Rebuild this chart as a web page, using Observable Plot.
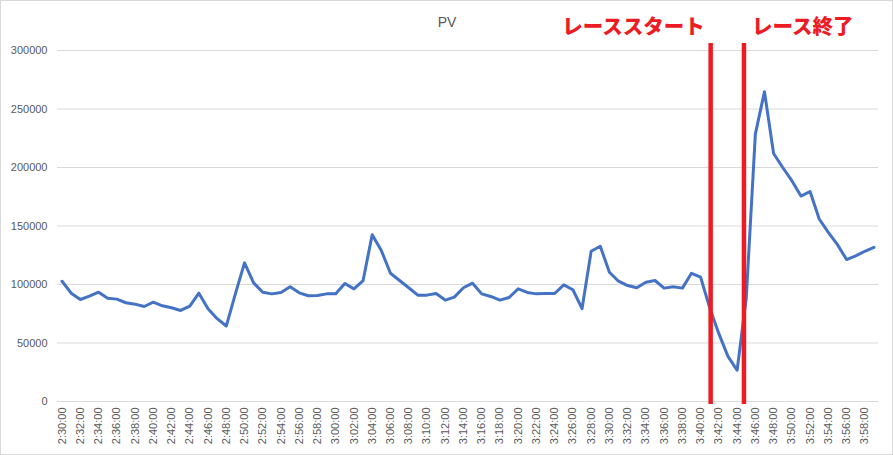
<!DOCTYPE html>
<html><head><meta charset="utf-8">
<script src="https://cdn.jsdelivr.net/npm/d3@7"></script>
<script src="https://cdn.jsdelivr.net/npm/@observablehq/plot@0.6"></script>
<style>
body{margin:0;background:#fff}
svg{outline:1px solid #d9d9d9;outline-offset:-1px}
</style>
</head><body><div id="chart"></div>
<script>
const times = [
"2:30:00","2:31:00","2:32:00","2:33:00","2:34:00","2:35:00","2:36:00","2:37:00","2:38:00","2:39:00",
"2:40:00","2:41:00","2:42:00","2:43:00","2:44:00","2:45:00","2:46:00","2:47:00","2:48:00","2:49:00",
"2:50:00","2:51:00","2:52:00","2:53:00","2:54:00","2:55:00","2:56:00","2:57:00","2:58:00","2:59:00",
"3:00:00","3:01:00","3:02:00","3:03:00","3:04:00","3:05:00","3:06:00","3:07:00","3:08:00","3:09:00",
"3:10:00","3:11:00","3:12:00","3:13:00","3:14:00","3:15:00","3:16:00","3:17:00","3:18:00","3:19:00",
"3:20:00","3:21:00","3:22:00","3:23:00","3:24:00","3:25:00","3:26:00","3:27:00","3:28:00","3:29:00",
"3:30:00","3:31:00","3:32:00","3:33:00","3:34:00","3:35:00","3:36:00","3:37:00","3:38:00","3:39:00",
"3:40:00","3:41:00","3:42:00","3:43:00","3:44:00","3:45:00","3:46:00","3:47:00","3:48:00","3:49:00",
"3:50:00","3:51:00","3:52:00","3:53:00","3:54:00","3:55:00","3:56:00","3:57:00","3:58:00","3:59:00"
];
const pv = [
102800, 92600, 87200, 90000, 93400, 88300, 87500, 84400, 83200, 81200,
84900, 81800, 80100, 77800, 81500, 92600, 79300, 70800, 64500, 92000,
118500,101400, 93400, 92000, 93200, 98000, 92900, 90400, 90600, 92000,
92000,100800, 96300,103400,142600,129000,109600,103400, 97200, 90900,
90900, 92300, 86700, 89200, 97200,101100, 92000, 89800, 86600, 88900,
96300, 93200, 92000, 92300, 92300, 99700, 95500, 79300,128400,132700,
110500,102800, 99100, 97200,102000,103400, 96900, 98000, 96900,109600,
106200, 80000, 58000, 38600, 26700, 88000,228500,264800,212000,200000,
188700,175600,179500,156000,144600,134100,121300,124400,128400,131800
];
const yTicks = [0, 50000, 100000, 150000, 200000, 250000, 300000];
const title = "PV";
const raceStart = {label: "レーススタート", minute: 71.1};
const raceEnd = {label: "レース終了", minute: 74.75};

const xTicks = times.map((t, i) => i).filter(i => i % 2 === 0);
const series = pv.map((v, i) => ({i, t: times[i], v}));
const red = "#ED1C24";
const gray = "#595959";

const chart = Plot.plot({
  width: 893,
  height: 455,
  marginLeft: 57,
  marginRight: 15,
  marginTop: 50,
  marginBottom: 54,
  style: {fontFamily: "'Liberation Sans', Arial, sans-serif", fontSize: "11px", background: "#fff"},
  x: {type: "linear", domain: [-0.5, times.length - 0.5]},
  y: {domain: [0, 300000]},
  marks: [
    Plot.gridY(yTicks, {stroke: "#d9d9d9", strokeOpacity: 1, strokeWidth: 1}),
    Plot.lineY(series, {x: "i", y: "v", stroke: "#4472C4", strokeWidth: 3, strokeLinejoin: "round", strokeLinecap: "round"}),
    Plot.ruleX([raceStart, raceEnd], {x: "minute", stroke: red, strokeWidth: 4.5, insetTop: -7, insetBottom: -3}),
    Plot.text([raceStart], {x: "minute", text: "label", frameAnchor: "top", lineAnchor: "middle", dy: -23, dx: -6, textAnchor: "end",
      fill: red, fontSize: 20.5, fontWeight: 900, fontFamily: "'Noto Sans CJK JP', sans-serif"}),
    Plot.text([raceEnd], {x: "minute", text: "label", frameAnchor: "top", lineAnchor: "middle", dy: -23, dx: 8, textAnchor: "start",
      fill: red, fontSize: 20.5, fontWeight: 900, fontFamily: "'Noto Sans CJK JP', sans-serif"}),
    Plot.text([title], {text: d => d, frameAnchor: "top", lineAnchor: "middle", dy: -28, dx: -21, fill: gray, fontSize: 14}),
    Plot.axisY({ticks: yTicks, tickSize: 0, tickPadding: 10, tickFormat: d => String(d), color: gray, label: null}),
    Plot.axisX({ticks: xTicks, tickFormat: i => times[i], tickRotate: -90, tickSize: 0, tickPadding: 6, color: gray, label: null})
  ]
});
document.getElementById("chart").appendChild(chart);
</script>
</body></html>
